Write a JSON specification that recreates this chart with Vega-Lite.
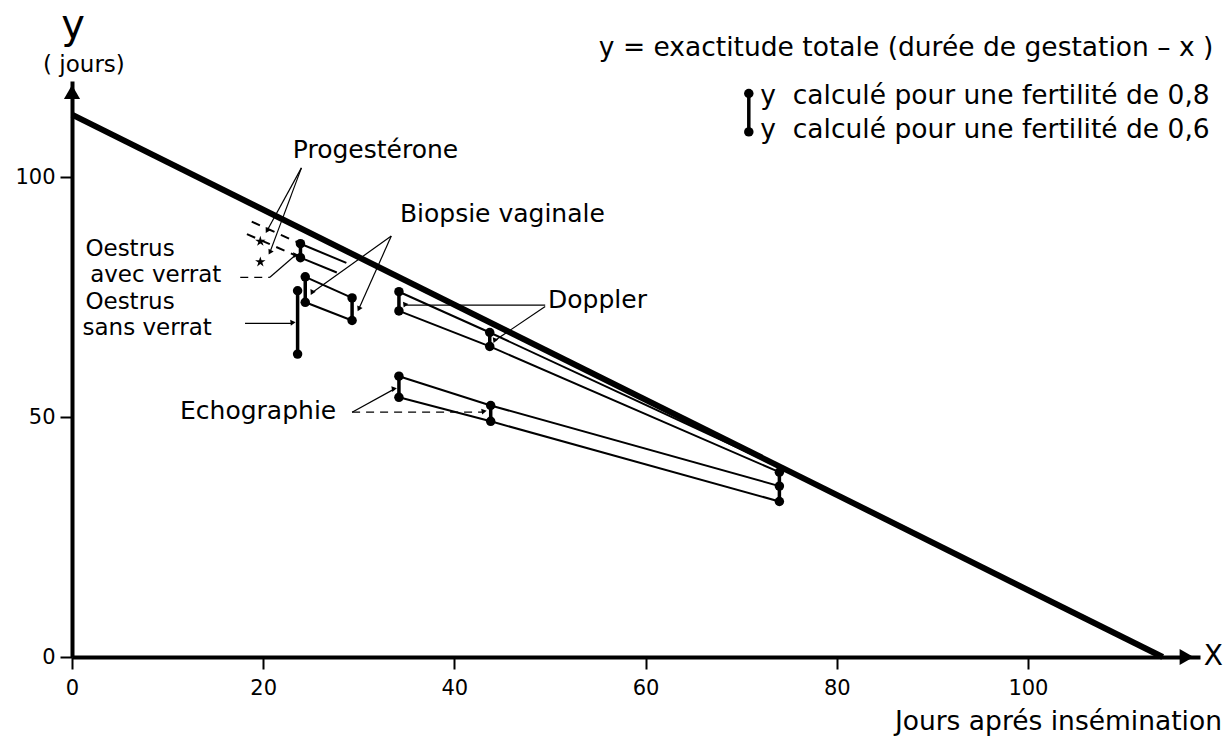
{
  "$schema": "https://vega.github.io/schema/vega-lite/v6.json",
  "width": 1128,
  "height": 576,
  "autosize": {"type": "none"},
  "padding": {"left": 72, "top": 81, "right": 30, "bottom": 81},
  "background": "white",
  "config": {"view": {"stroke": null}, "font": "DejaVu Sans"},
  "datasets": {
    "segs": [
      {"x": 0, "y": 113, "x2": 114.1, "y2": 0, "k": "main"},
      {"x": 23.9, "y": 86.1, "x2": 28.7, "y2": 82.1, "k": "link"},
      {"x": 23.9, "y": 83.2, "x2": 27.7, "y2": 80.1, "k": "link"},
      {"x": 24.4, "y": 79.2, "x2": 29.3, "y2": 74.8, "k": "link"},
      {"x": 24.4, "y": 73.9, "x2": 29.3, "y2": 70.1, "k": "link"},
      {"x": 34.2, "y": 76.1, "x2": 43.7, "y2": 67.6, "k": "link"},
      {"x": 34.2, "y": 72.1, "x2": 43.7, "y2": 64.7, "k": "link"},
      {"x": 43.7, "y": 67.6, "x2": 74, "y2": 39.6, "k": "link"},
      {"x": 43.7, "y": 64.7, "x2": 74, "y2": 38.5, "k": "link"},
      {"x": 34.2, "y": 58.5, "x2": 43.8, "y2": 52.4, "k": "link"},
      {"x": 34.2, "y": 54.1, "x2": 43.8, "y2": 49.1, "k": "link"},
      {"x": 43.8, "y": 52.4, "x2": 74, "y2": 35.6, "k": "link"},
      {"x": 43.8, "y": 49.1, "x2": 74, "y2": 32.4, "k": "link"},
      {"x": 18.8, "y": 90.7, "x2": 23.9, "y2": 86.1, "k": "dash"},
      {"x": 18.3, "y": 88.1, "x2": 23.9, "y2": 83.2, "k": "dash"},
      {"x": 23.9, "y": 86.1, "x2": 23.9, "y2": 83.2, "k": "pair"},
      {"x": 23.6, "y": 76.3, "x2": 23.6, "y2": 63.1, "k": "pair"},
      {"x": 24.4, "y": 79.2, "x2": 24.4, "y2": 73.9, "k": "pair"},
      {"x": 29.3, "y": 74.8, "x2": 29.3, "y2": 70.1, "k": "pair"},
      {"x": 34.2, "y": 76.1, "x2": 34.2, "y2": 72.1, "k": "pair"},
      {"x": 43.7, "y": 67.6, "x2": 43.7, "y2": 64.7, "k": "pair"},
      {"x": 34.2, "y": 58.5, "x2": 34.2, "y2": 54.1, "k": "pair"},
      {"x": 43.8, "y": 52.4, "x2": 43.8, "y2": 49.1, "k": "pair"},
      {"x": 74, "y": 38.5, "x2": 74, "y2": 32.4, "k": "pair"},
      {"x": 70.8, "y": 117.4, "x2": 70.8, "y2": 109.4, "k": "pair"},
      {"x": 24.0, "y": 101.9, "x2": 20.4, "y2": 88.8, "k": "lead"},
      {"x": 24.0, "y": 101.9, "x2": 20.7, "y2": 84.3, "k": "lead"},
      {"x": 33.4, "y": 87.7, "x2": 25.1, "y2": 75.9, "k": "lead"},
      {"x": 33.4, "y": 87.7, "x2": 30.0, "y2": 72.5, "k": "lead"},
      {"x": 17.6, "y": 79.1, "x2": 20.7, "y2": 79.1, "k": "leaddash"},
      {"x": 20.7, "y": 79.1, "x2": 23.3, "y2": 83.6, "k": "lead"},
      {"x": 18.1, "y": 69.5, "x2": 23.0, "y2": 69.5, "k": "lead"},
      {"x": 49.5, "y": 73.3, "x2": 34.8, "y2": 73.3, "k": "lead"},
      {"x": 49.5, "y": 73.0, "x2": 44.2, "y2": 65.9, "k": "lead"},
      {"x": 29.3, "y": 51.0, "x2": 33.6, "y2": 55.7, "k": "lead"},
      {"x": 29.3, "y": 51.0, "x2": 43.0, "y2": 51.0, "k": "leaddash"}
    ],
    "dots": [
      {"x": 23.9, "y": 86.1}, {"x": 23.9, "y": 83.2},
      {"x": 23.6, "y": 76.3}, {"x": 23.6, "y": 63.1},
      {"x": 24.4, "y": 79.2}, {"x": 24.4, "y": 73.9},
      {"x": 29.3, "y": 74.8}, {"x": 29.3, "y": 70.1},
      {"x": 34.2, "y": 76.1}, {"x": 34.2, "y": 72.1},
      {"x": 43.7, "y": 67.6}, {"x": 43.7, "y": 64.7},
      {"x": 34.2, "y": 58.5}, {"x": 34.2, "y": 54.1},
      {"x": 43.8, "y": 52.4}, {"x": 43.8, "y": 49.1},
      {"x": 74, "y": 38.5}, {"x": 74, "y": 35.6}, {"x": 74, "y": 32.4},
      {"x": 70.8, "y": 117.4}, {"x": 70.8, "y": 109.4}
    ],
    "stars": [{"x": 19.7, "y": 86.6}, {"x": 19.7, "y": 82.3}],
    "heads": [
      {"x": 20.4, "y": 88.8, "a": "p1"},
      {"x": 20.7, "y": 84.3, "a": "p2"},
      {"x": 25.1, "y": 75.9, "a": "b1"},
      {"x": 30.0, "y": 72.5, "a": "b2"},
      {"x": 23.3, "y": 83.6, "a": "av"},
      {"x": 23.0, "y": 69.5, "a": "sv"},
      {"x": 34.8, "y": 73.3, "a": "d1"},
      {"x": 44.2, "y": 65.9, "a": "d2"},
      {"x": 33.6, "y": 55.7, "a": "e1"},
      {"x": 43.0, "y": 51.0, "a": "e2"}
    ],
    "labels": [
      {"x": 23.1, "y": 105.6, "text": "Progestérone", "g": "left"},
      {"x": 34.3, "y": 92.3, "text": "Biopsie vaginale", "g": "left"},
      {"x": 1.4, "y": 85.0, "text": "Oestrus", "g": "small"},
      {"x": 1.9, "y": 79.5, "text": "avec verrat", "g": "small"},
      {"x": 1.4, "y": 74.0, "text": "Oestrus", "g": "small"},
      {"x": 1.1, "y": 68.5, "text": "sans verrat", "g": "small"},
      {"x": 49.8, "y": 74.4, "text": "Doppler", "g": "left"},
      {"x": 11.3, "y": 51.3, "text": "Echographie", "g": "left"},
      {"x": 72.0, "y": 116.8, "text": "y\u00a0\u00a0calculé pour une fertilité de 0,8", "g": "legend"},
      {"x": 72.0, "y": 109.8, "text": "y\u00a0\u00a0calculé pour une fertilité de 0,6", "g": "legend"},
      {"x": 119.4, "y": 126.9, "text": "y = exactitude totale (durée de gestation – x )", "g": "right"},
      {"x": 120.3, "y": -13.5, "text": "Jours aprés insémination", "g": "right"},
      {"x": 1.25, "y": 123.3, "text": "( jours)", "g": "center"},
      {"x": 0.1, "y": 131.5, "text": "y", "g": "big"},
      {"x": 118.4, "y": 0, "text": "X", "g": "xlab"}
    ],
    "yhead": [{"x": 0, "y": 117.7}],
    "xhead": [{"x": 116.6, "y": 0}]
  },
  "encoding": {
    "x": {
      "field": "x", "type": "quantitative",
      "scale": {"domain": [0, 118], "nice": false, "zero": false},
      "axis": {"title": null, "values": [0, 20, 40, 60, 80, 100], "grid": false, "domainWidth": 4, "domainColor": "black", "tickColor": "black", "tickWidth": 2, "tickSize": 12, "labelFontSize": 21, "labelColor": "black", "labelFont": "DejaVu Sans", "labelPadding": 8, "labelFlush": false}
    },
    "y": {
      "field": "y", "type": "quantitative",
      "scale": {"domain": [0, 120], "nice": false, "zero": false},
      "axis": {"title": null, "values": [0, 50, 100], "grid": false, "domainWidth": 4, "domainColor": "black", "tickColor": "black", "tickWidth": 2, "tickSize": 12, "labelFontSize": 21, "labelColor": "black", "labelFont": "DejaVu Sans", "labelPadding": 5}
    }
  },
  "layer": [
    {"data": {"name": "segs"}, "transform": [{"filter": "datum.k == 'main'"}], "mark": {"type": "rule", "strokeWidth": 6, "color": "black", "strokeCap": "butt"}, "encoding": {"x2": {"field": "x2"}, "y2": {"field": "y2"}}},
    {"data": {"name": "segs"}, "transform": [{"filter": "datum.k == 'link'"}], "mark": {"type": "rule", "strokeWidth": 2, "color": "black"}, "encoding": {"x2": {"field": "x2"}, "y2": {"field": "y2"}}},
    {"data": {"name": "segs"}, "transform": [{"filter": "datum.k == 'dash'"}], "mark": {"type": "rule", "strokeWidth": 2, "color": "black", "strokeDash": [9, 7]}, "encoding": {"x2": {"field": "x2"}, "y2": {"field": "y2"}}},
    {"data": {"name": "segs"}, "transform": [{"filter": "datum.k == 'pair'"}], "mark": {"type": "rule", "strokeWidth": 3.5, "color": "black"}, "encoding": {"x2": {"field": "x2"}, "y2": {"field": "y2"}}},
    {"data": {"name": "segs"}, "transform": [{"filter": "datum.k == 'lead'"}], "mark": {"type": "rule", "strokeWidth": 1.2, "color": "black"}, "encoding": {"x2": {"field": "x2"}, "y2": {"field": "y2"}}},
    {"data": {"name": "segs"}, "transform": [{"filter": "datum.k == 'leaddash'"}], "mark": {"type": "rule", "strokeWidth": 1.2, "color": "black", "strokeDash": [8, 6]}, "encoding": {"x2": {"field": "x2"}, "y2": {"field": "y2"}}},
    {"data": {"name": "dots"}, "mark": {"type": "point", "filled": true, "color": "black", "size": 90, "opacity": 1}},
    {"data": {"name": "stars"}, "mark": {"type": "point", "filled": true, "color": "black", "opacity": 1, "size": 120, "shape": "M0,-1L0.2245,-0.309L0.951,-0.309L0.363,0.118L0.588,0.809L0,0.382L-0.588,0.809L-0.363,0.118L-0.951,-0.309L-0.2245,-0.309Z"}},
    {"data": {"name": "heads"}, "mark": {"type": "point", "filled": true, "color": "black", "opacity": 1, "size": 35, "shape": "triangle-up"},
      "encoding": {"angle": {"field": "a", "type": "nominal", "legend": null, "scale": {"domain": ["p1", "p2", "b1", "b2", "av", "sv", "d1", "d2", "e1", "e2"], "range": [209, 200, 235, 204, 48, 90, 270, 235, 60, 90]}}}},
    {"data": {"name": "yhead"}, "mark": {"type": "point", "filled": true, "color": "black", "opacity": 1, "size": 260, "shape": "triangle-up"}},
    {"data": {"name": "xhead"}, "mark": {"type": "point", "filled": true, "color": "black", "opacity": 1, "size": 260, "shape": "triangle-right"}},
    {"data": {"name": "labels"}, "transform": [{"filter": "datum.g == 'left'"}], "mark": {"type": "text", "align": "left", "baseline": "middle", "fontSize": 25, "font": "DejaVu Sans", "color": "black"}, "encoding": {"text": {"field": "text"}}},
    {"data": {"name": "labels"}, "transform": [{"filter": "datum.g == 'small'"}], "mark": {"type": "text", "align": "left", "baseline": "middle", "fontSize": 23, "font": "DejaVu Sans", "color": "black"}, "encoding": {"text": {"field": "text"}}},
    {"data": {"name": "labels"}, "transform": [{"filter": "datum.g == 'legend'"}], "mark": {"type": "text", "align": "left", "baseline": "middle", "fontSize": 26.5, "font": "DejaVu Sans", "color": "black"}, "encoding": {"text": {"field": "text"}}},
    {"data": {"name": "labels"}, "transform": [{"filter": "datum.g == 'right'"}], "mark": {"type": "text", "align": "right", "baseline": "middle", "fontSize": 26.5, "font": "DejaVu Sans", "color": "black"}, "encoding": {"text": {"field": "text"}}},
    {"data": {"name": "labels"}, "transform": [{"filter": "datum.g == 'center'"}], "mark": {"type": "text", "align": "center", "baseline": "middle", "fontSize": 23, "font": "DejaVu Sans", "color": "black"}, "encoding": {"text": {"field": "text"}}},
    {"data": {"name": "labels"}, "transform": [{"filter": "datum.g == 'big'"}], "mark": {"type": "text", "align": "center", "baseline": "middle", "fontSize": 40, "font": "DejaVu Sans", "color": "black"}, "encoding": {"text": {"field": "text"}}},
    {"data": {"name": "labels"}, "transform": [{"filter": "datum.g == 'xlab'"}], "mark": {"type": "text", "align": "left", "baseline": "middle", "fontSize": 28, "font": "DejaVu Sans", "color": "black"}, "encoding": {"text": {"field": "text"}}}
  ]
}
